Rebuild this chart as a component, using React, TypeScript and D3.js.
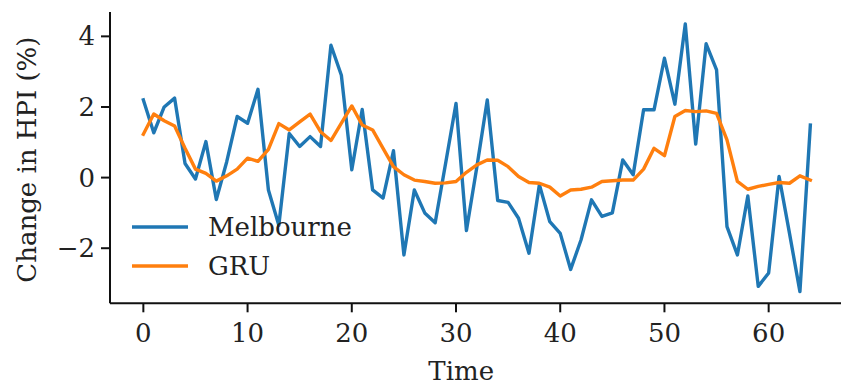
import React from "react";
import * as d3 from "d3";

const melbourne: number[] = [
  2.2, 1.27, 2.0, 2.25, 0.4, -0.04, 1.02, -0.62, 0.45, 1.73,
  1.54, 2.5, -0.35, -1.35, 1.25, 0.88, 1.16, 0.88, 3.75, 2.9,
  0.22, 1.93, -0.35, -0.58, 0.76, -2.19, -0.35, -1.0, -1.28, 0.4,
  2.1, -1.5, 0.3, 2.2, -0.65, -0.7, -1.15, -2.14, -0.2, -1.25,
  -1.58, -2.6, -1.76, -0.63, -1.1, -1.0, 0.5, 0.08, 1.92, 1.92,
  3.38, 2.08, 4.35, 0.95, 3.79, 3.05, -1.39, -2.19, -0.52, -3.08,
  -2.7, 0.03, -1.58, -3.23, 1.49,
];

const gru: number[] = [
  1.23, 1.8, 1.61, 1.46, 0.83, 0.24, 0.12, -0.1, 0.05, 0.24,
  0.55, 0.46, 0.8, 1.53, 1.35, 1.58, 1.8, 1.3, 1.05, 1.54,
  2.03, 1.49, 1.35, 0.83, 0.31, 0.08, -0.07, -0.11, -0.16, -0.15,
  -0.11, 0.15, 0.36, 0.5, 0.49, 0.31, 0.03, -0.14, -0.16, -0.27,
  -0.52, -0.35, -0.33, -0.27, -0.11, -0.09, -0.07, -0.07, 0.24, 0.83,
  0.62, 1.73, 1.9, 1.87, 1.89, 1.82, 1.07, -0.11, -0.33, -0.25,
  -0.19, -0.14, -0.16, 0.05, -0.07,
];

const xTicks: number[] = [0, 10, 20, 30, 40, 50, 60];
const yTicks: number[] = [-2, 0, 2, 4];

const seriesNames = ["Melbourne", "GRU"];
const seriesColors = ["#1f77b4", "#ff7f0e"];

export default function App() {
  const W = 841;
  const H = 385;
  const left = 110;
  const top = 12;
  const bottom = 303.3;
  const font = "'DejaVu Serif', serif";
  const fs = 26;

  const x = d3.scaleLinear().domain([-3.2, 67.2]).range([left, 843.7]);
  const y = d3.scaleLinear().domain([-3.56, 4.69]).range([bottom, top]);

  const line = d3
    .line<number>()
    .x((_, i) => x(i))
    .y((d) => y(d));

  const series = [melbourne, gru];

  return (
    <svg
      width={W}
      height={H}
      style={{ position: "absolute", left: 0, top: 0, background: "#fff" }}
    >
      <rect x={0} y={0} width={W} height={H} fill="#fff" />
      {series.map((s, k) => (
        <path
          key={k}
          d={line(s) || ""}
          fill="none"
          stroke={seriesColors[k]}
          strokeWidth={3.4}
          strokeLinejoin="round"
          strokeLinecap="square"
        />
      ))}
      {/* spines */}
      <line x1={left} x2={left} y1={top} y2={bottom} stroke="#111" strokeWidth={2} />
      <line x1={left} x2={W} y1={bottom} y2={bottom} stroke="#111" strokeWidth={2} />
      {/* y ticks */}
      {yTicks.map((t) => (
        <g key={t}>
          <line x1={left - 9} x2={left} y1={y(t)} y2={y(t)} stroke="#111" strokeWidth={2} />
          <text
            x={left - 15}
            y={y(t)}
            textAnchor="end"
            dominantBaseline="central"
            fontFamily={font}
            fontSize={fs}
            fill="#222"
          >
            {t < 0 ? "\u2212" + Math.abs(t) : String(t)}
          </text>
        </g>
      ))}
      {/* x ticks */}
      {xTicks.map((t) => (
        <g key={t}>
          <line x1={x(t)} x2={x(t)} y1={bottom} y2={bottom + 9} stroke="#111" strokeWidth={2} />
          <text
            x={x(t)}
            y={bottom + 39}
            textAnchor="middle"
            fontFamily={font}
            fontSize={fs}
            fill="#222"
          >
            {String(t)}
          </text>
        </g>
      ))}
      <text
        x={x(30.5)}
        y={380}
        textAnchor="middle"
        fontFamily={font}
        fontSize={fs}
        fill="#222"
      >
        Time
      </text>
      <text
        transform={`translate(36, ${(top + bottom) / 2 + 2}) rotate(-90)`}
        textAnchor="middle"
        fontFamily={font}
        fontSize={fs}
        fill="#222"
      >
        Change in HPI (%)
      </text>
      {/* legend */}
      {seriesNames.map((n, k) => (
        <g key={n}>
          <line
            x1={132}
            x2={188}
            y1={227 + k * 39}
            y2={227 + k * 39}
            stroke={seriesColors[k]}
            strokeWidth={3.4}
          />
          <text
            x={208}
            y={227 + k * 39 + 9}
            fontFamily={font}
            fontSize={fs}
            fill="#222"
          >
            {n}
          </text>
        </g>
      ))}
    </svg>
  );
}
